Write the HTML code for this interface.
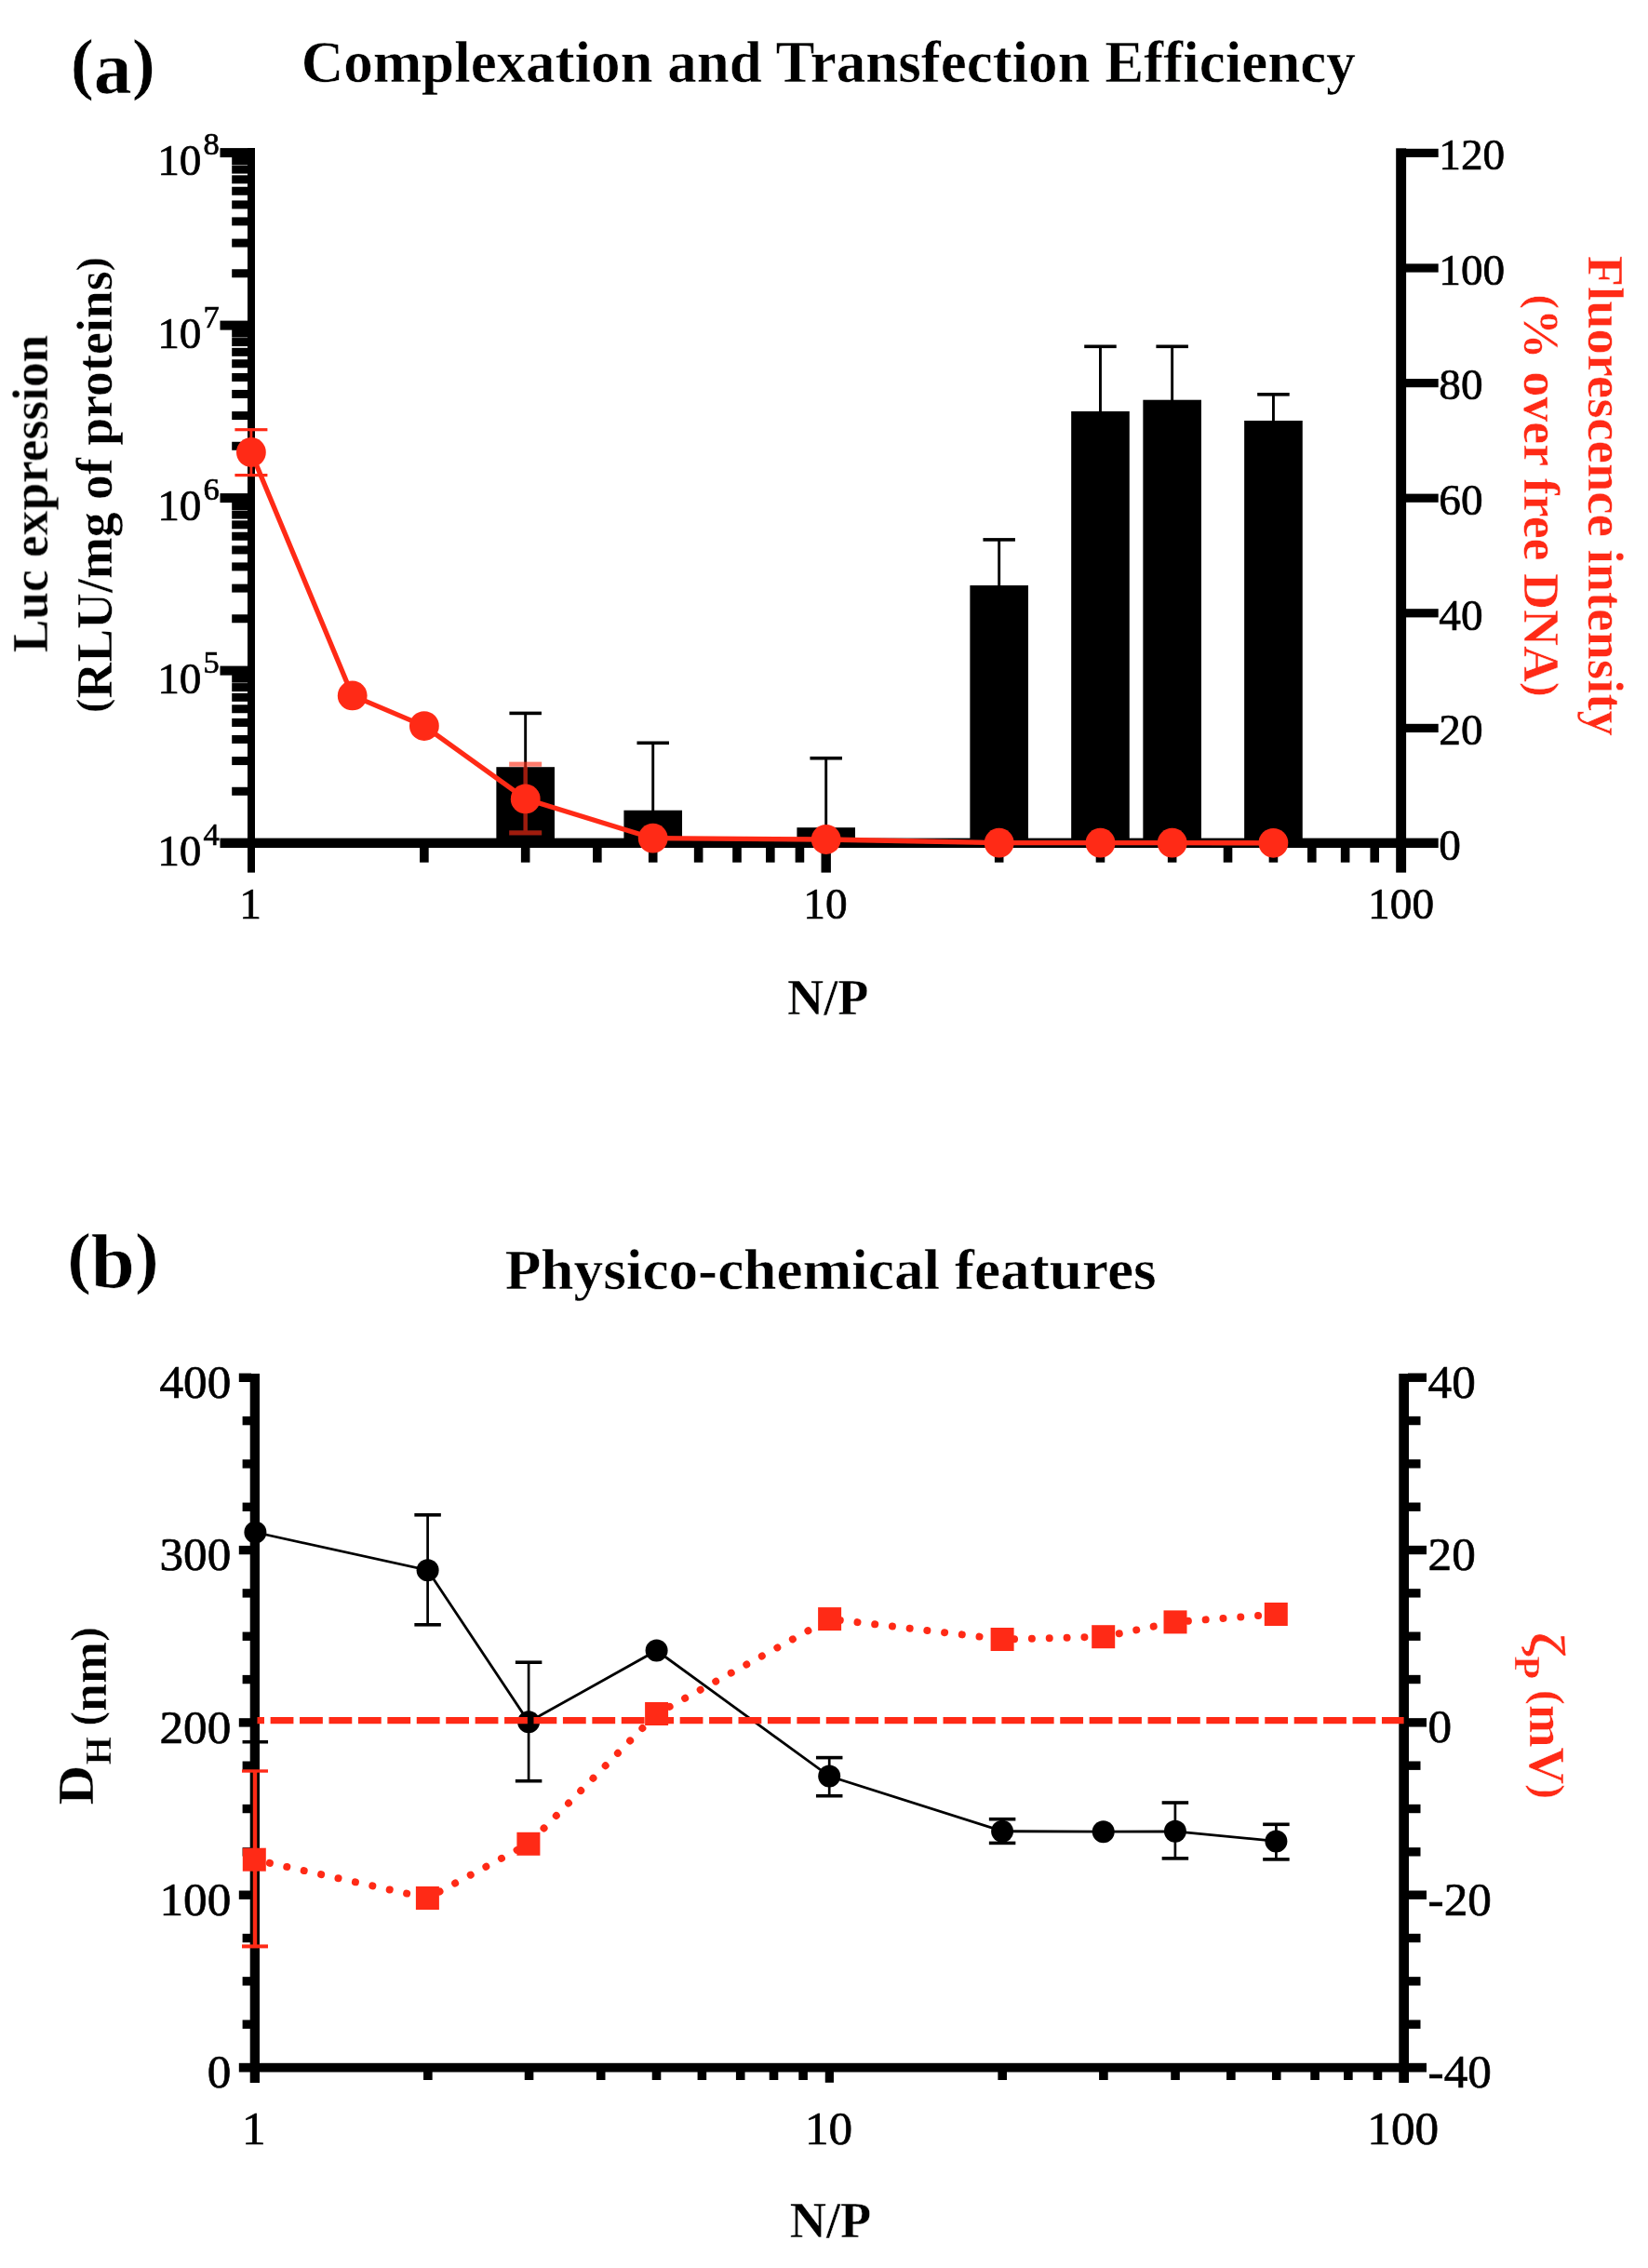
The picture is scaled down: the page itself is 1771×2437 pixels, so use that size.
<!DOCTYPE html>
<html lang="en">
<head>
<meta charset="utf-8">
<title>Complexation and Transfection Efficiency / Physico-chemical features</title>
<style>
html,body{margin:0;padding:0;background:#fff;}
body{width:1771px;height:2437px;overflow:hidden;}
svg{display:block;font-family:"Liberation Serif","DejaVu Serif",serif;}
text{white-space:pre;}
</style>
</head>
<body>
<svg width="1771" height="2437" viewBox="0 0 1771 2437">
<defs><filter id="soft" x="0" y="0" width="1771" height="2437" filterUnits="userSpaceOnUse"><feGaussianBlur stdDeviation="0.6"/></filter></defs>
<rect x="0" y="0" width="1771" height="2437" fill="#ffffff"/>
<g filter="url(#soft)">
<g id="panel-a">
<rect x="533.37" y="824.20" width="62.60" height="81.80" fill="#020302"/>
<rect x="563.22" y="766.40" width="2.90" height="58.80" fill="#020302"/>
<rect x="547.42" y="764.60" width="34.50" height="3.60" fill="#020302"/>
<rect x="670.42" y="870.70" width="62.60" height="35.30" fill="#020302"/>
<rect x="700.27" y="798.30" width="2.90" height="73.40" fill="#020302"/>
<rect x="684.47" y="796.50" width="34.50" height="3.60" fill="#020302"/>
<rect x="856.40" y="889.20" width="62.60" height="16.80" fill="#020302"/>
<rect x="886.25" y="814.70" width="2.90" height="75.50" fill="#020302"/>
<rect x="870.45" y="812.90" width="34.50" height="3.60" fill="#020302"/>
<rect x="1042.38" y="629.00" width="62.60" height="277.00" fill="#020302"/>
<rect x="1072.23" y="579.90" width="2.90" height="50.10" fill="#020302"/>
<rect x="1056.43" y="578.10" width="34.50" height="3.60" fill="#020302"/>
<rect x="1151.17" y="442.00" width="62.60" height="464.00" fill="#020302"/>
<rect x="1181.02" y="372.30" width="2.90" height="70.70" fill="#020302"/>
<rect x="1165.22" y="370.50" width="34.50" height="3.60" fill="#020302"/>
<rect x="1228.35" y="429.70" width="62.60" height="476.30" fill="#020302"/>
<rect x="1258.20" y="372.30" width="2.90" height="58.40" fill="#020302"/>
<rect x="1242.40" y="370.50" width="34.50" height="3.60" fill="#020302"/>
<rect x="1337.14" y="452.00" width="62.60" height="454.00" fill="#020302"/>
<rect x="1366.99" y="423.80" width="2.90" height="29.20" fill="#020302"/>
<rect x="1351.19" y="422.00" width="34.50" height="3.60" fill="#020302"/>
<rect x="266.00" y="159.00" width="8.00" height="778.60" fill="#020302"/>
<rect x="1500.20" y="159.30" width="10.90" height="778.30" fill="#020302"/>
<rect x="236.50" y="900.60" width="1309.20" height="10.40" fill="#020302"/>
<rect x="236.50" y="159.10" width="30.50" height="10.00" fill="#020302"/>
<rect x="249.20" y="289.26" width="17.80" height="9.00" fill="#020302"/>
<rect x="249.20" y="256.59" width="17.80" height="9.00" fill="#020302"/>
<rect x="249.20" y="233.42" width="17.80" height="9.00" fill="#020302"/>
<rect x="249.20" y="215.44" width="17.80" height="9.00" fill="#020302"/>
<rect x="249.20" y="200.75" width="17.80" height="9.00" fill="#020302"/>
<rect x="249.20" y="188.33" width="17.80" height="9.00" fill="#020302"/>
<rect x="249.20" y="177.58" width="17.80" height="9.00" fill="#020302"/>
<rect x="249.20" y="168.09" width="17.80" height="9.00" fill="#020302"/>
<rect x="236.50" y="344.60" width="30.50" height="10.00" fill="#020302"/>
<rect x="249.20" y="474.76" width="17.80" height="9.00" fill="#020302"/>
<rect x="249.20" y="442.09" width="17.80" height="9.00" fill="#020302"/>
<rect x="249.20" y="418.92" width="17.80" height="9.00" fill="#020302"/>
<rect x="249.20" y="400.94" width="17.80" height="9.00" fill="#020302"/>
<rect x="249.20" y="386.25" width="17.80" height="9.00" fill="#020302"/>
<rect x="249.20" y="373.83" width="17.80" height="9.00" fill="#020302"/>
<rect x="249.20" y="363.08" width="17.80" height="9.00" fill="#020302"/>
<rect x="249.20" y="353.59" width="17.80" height="9.00" fill="#020302"/>
<rect x="236.50" y="530.10" width="30.50" height="10.00" fill="#020302"/>
<rect x="249.20" y="660.26" width="17.80" height="9.00" fill="#020302"/>
<rect x="249.20" y="627.59" width="17.80" height="9.00" fill="#020302"/>
<rect x="249.20" y="604.42" width="17.80" height="9.00" fill="#020302"/>
<rect x="249.20" y="586.44" width="17.80" height="9.00" fill="#020302"/>
<rect x="249.20" y="571.75" width="17.80" height="9.00" fill="#020302"/>
<rect x="249.20" y="559.33" width="17.80" height="9.00" fill="#020302"/>
<rect x="249.20" y="548.58" width="17.80" height="9.00" fill="#020302"/>
<rect x="249.20" y="539.09" width="17.80" height="9.00" fill="#020302"/>
<rect x="236.50" y="715.60" width="30.50" height="10.00" fill="#020302"/>
<rect x="249.20" y="845.76" width="17.80" height="9.00" fill="#020302"/>
<rect x="249.20" y="813.09" width="17.80" height="9.00" fill="#020302"/>
<rect x="249.20" y="789.92" width="17.80" height="9.00" fill="#020302"/>
<rect x="249.20" y="771.94" width="17.80" height="9.00" fill="#020302"/>
<rect x="249.20" y="757.25" width="17.80" height="9.00" fill="#020302"/>
<rect x="249.20" y="744.83" width="17.80" height="9.00" fill="#020302"/>
<rect x="249.20" y="734.08" width="17.80" height="9.00" fill="#020302"/>
<rect x="249.20" y="724.59" width="17.80" height="9.00" fill="#020302"/>
<rect x="1510.00" y="777.80" width="35.70" height="9.20" fill="#020302"/>
<rect x="1510.00" y="654.20" width="35.70" height="9.20" fill="#020302"/>
<rect x="1510.00" y="530.60" width="35.70" height="9.20" fill="#020302"/>
<rect x="1510.00" y="407.00" width="35.70" height="9.20" fill="#020302"/>
<rect x="1510.00" y="283.40" width="35.70" height="9.20" fill="#020302"/>
<rect x="1510.00" y="159.80" width="35.70" height="9.20" fill="#020302"/>
<rect x="451.08" y="906.00" width="9.60" height="20.70" fill="#020302"/>
<rect x="559.87" y="906.00" width="9.60" height="20.70" fill="#020302"/>
<rect x="637.05" y="906.00" width="9.60" height="20.70" fill="#020302"/>
<rect x="696.92" y="906.00" width="9.60" height="20.70" fill="#020302"/>
<rect x="745.84" y="906.00" width="9.60" height="20.70" fill="#020302"/>
<rect x="787.20" y="906.00" width="9.60" height="20.70" fill="#020302"/>
<rect x="823.03" y="906.00" width="9.60" height="20.70" fill="#020302"/>
<rect x="854.63" y="906.00" width="9.60" height="20.70" fill="#020302"/>
<rect x="1068.88" y="906.00" width="9.60" height="20.70" fill="#020302"/>
<rect x="1177.67" y="906.00" width="9.60" height="20.70" fill="#020302"/>
<rect x="1254.85" y="906.00" width="9.60" height="20.70" fill="#020302"/>
<rect x="1314.72" y="906.00" width="9.60" height="20.70" fill="#020302"/>
<rect x="1363.64" y="906.00" width="9.60" height="20.70" fill="#020302"/>
<rect x="1405.00" y="906.00" width="9.60" height="20.70" fill="#020302"/>
<rect x="1440.83" y="906.00" width="9.60" height="20.70" fill="#020302"/>
<rect x="1472.43" y="906.00" width="9.60" height="20.70" fill="#020302"/>
<rect x="882.50" y="906.00" width="10.40" height="31.60" fill="#020302"/>
<g opacity="1">
<rect x="268.50" y="461.70" width="2.80" height="48.90" fill="#ff2c18"/>
<rect x="252.40" y="460.10" width="35.00" height="3.20" fill="#ff2c18"/>
<rect x="252.40" y="509.00" width="35.00" height="3.20" fill="#ff2c18"/>
</g>
<g opacity="0.62">
<rect x="562.43" y="821.20" width="4.48" height="73.70" fill="#ff2c18"/>
<rect x="547.17" y="818.64" width="35.00" height="5.12" fill="#ff2c18"/>
<rect x="547.17" y="892.34" width="35.00" height="5.12" fill="#ff2c18"/>
</g>
<polyline fill="none" stroke="#ff2c18" stroke-width="5.3" stroke-linejoin="round" points="269.9,486.0 378.7,747.4 455.9,780.1 564.7,858.4 701.7,900.7 887.7,902.0 1073.7,905.7 1182.5,905.7 1259.7,905.7 1368.4,905.8"/>
<circle cx="269.9" cy="486.0" r="15.9" fill="#ff2c18"/>
<circle cx="378.7" cy="747.4" r="15.9" fill="#ff2c18"/>
<circle cx="455.9" cy="780.1" r="15.9" fill="#ff2c18"/>
<circle cx="564.7" cy="858.4" r="15.9" fill="#ff2c18"/>
<circle cx="701.7" cy="900.7" r="15.9" fill="#ff2c18"/>
<circle cx="887.7" cy="902.0" r="15.9" fill="#ff2c18"/>
<circle cx="1073.7" cy="905.7" r="15.9" fill="#ff2c18"/>
<circle cx="1182.5" cy="905.7" r="15.9" fill="#ff2c18"/>
<circle cx="1259.7" cy="905.7" r="15.9" fill="#ff2c18"/>
<circle cx="1368.4" cy="905.8" r="15.9" fill="#ff2c18"/>
<text x="216.50" y="188.10" font-size="47.3" text-anchor="end" stroke="#020302" stroke-width="0.7" fill="#020302">10</text>
<text x="218.50" y="166.10" font-size="34.5" stroke="#020302" stroke-width="0.7" fill="#020302">8</text>
<text x="216.50" y="373.60" font-size="47.3" text-anchor="end" stroke="#020302" stroke-width="0.7" fill="#020302">10</text>
<text x="218.50" y="351.60" font-size="34.5" stroke="#020302" stroke-width="0.7" fill="#020302">7</text>
<text x="216.50" y="559.10" font-size="47.3" text-anchor="end" stroke="#020302" stroke-width="0.7" fill="#020302">10</text>
<text x="218.50" y="537.10" font-size="34.5" stroke="#020302" stroke-width="0.7" fill="#020302">6</text>
<text x="216.50" y="744.60" font-size="47.3" text-anchor="end" stroke="#020302" stroke-width="0.7" fill="#020302">10</text>
<text x="218.50" y="722.60" font-size="34.5" stroke="#020302" stroke-width="0.7" fill="#020302">5</text>
<text x="216.50" y="930.10" font-size="47.3" text-anchor="end" stroke="#020302" stroke-width="0.7" fill="#020302">10</text>
<text x="218.50" y="908.10" font-size="34.5" stroke="#020302" stroke-width="0.7" fill="#020302">4</text>
<text x="1546.30" y="923.70" font-size="47.3" stroke="#020302" stroke-width="0.7" fill="#020302">0</text>
<text x="1546.30" y="800.10" font-size="47.3" stroke="#020302" stroke-width="0.7" fill="#020302">20</text>
<text x="1546.30" y="676.50" font-size="47.3" stroke="#020302" stroke-width="0.7" fill="#020302">40</text>
<text x="1546.30" y="552.90" font-size="47.3" stroke="#020302" stroke-width="0.7" fill="#020302">60</text>
<text x="1546.30" y="429.30" font-size="47.3" stroke="#020302" stroke-width="0.7" fill="#020302">80</text>
<text x="1546.30" y="305.70" font-size="47.3" stroke="#020302" stroke-width="0.7" fill="#020302">100</text>
<text x="1546.30" y="182.10" font-size="47.3" stroke="#020302" stroke-width="0.7" fill="#020302">120</text>
<text x="269.00" y="986.70" font-size="47.3" text-anchor="middle" stroke="#020302" stroke-width="0.7" fill="#020302">1</text>
<text x="886.90" y="986.70" font-size="47.3" text-anchor="middle" stroke="#020302" stroke-width="0.7" fill="#020302">10</text>
<text x="1505.60" y="986.70" font-size="47.3" text-anchor="middle" stroke="#020302" stroke-width="0.7" fill="#020302">100</text>
<text x="75.70" y="99.60" font-weight="bold" stroke="#fff" fill="#020302" textLength="91.0" lengthAdjust="spacingAndGlyphs"><tspan font-size="74.5" stroke-width="0.60" dy="-6.30">(</tspan><tspan font-size="81" stroke-width="0.65" dy="6.30">a</tspan><tspan font-size="74.5" stroke-width="0.60" dy="-6.30">)</tspan></text>
<text x="323.70" y="87.50" font-size="64" font-weight="bold" stroke="#fff" stroke-width="0.51" fill="#020302" textLength="1133.0" lengthAdjust="spacingAndGlyphs">Complexation and Transfection Efficiency</text>
<text x="889.70" y="1090.10" font-size="54" text-anchor="middle" font-weight="bold" stroke="#fff" stroke-width="0.43" fill="#020302" textLength="87.5" lengthAdjust="spacingAndGlyphs">N/P</text>
<text transform="translate(50.90 530.50) rotate(-90)" font-size="55" text-anchor="middle" font-weight="bold" stroke="#fff" stroke-width="0.44" fill="#020302" textLength="341.5" lengthAdjust="spacingAndGlyphs">Luc expression</text>
<text transform="translate(119.70 521.00) rotate(-90)" text-anchor="middle" font-weight="bold" stroke="#fff" fill="#020302" textLength="490.0" lengthAdjust="spacingAndGlyphs"><tspan font-size="47.3" stroke-width="0.38" dy="-5.28">(</tspan><tspan font-size="55" stroke-width="0.44" dy="5.28">RLU/mg of proteins</tspan><tspan font-size="47.3" stroke-width="0.38" dy="-5.28">)</tspan></text>
<text transform="translate(1706.80 532.70) rotate(90)" font-size="55" text-anchor="middle" font-weight="bold" stroke="#fff" stroke-width="0.44" fill="#ff2c18" textLength="516.0" lengthAdjust="spacingAndGlyphs">Fluorescence intensity</text>
<text transform="translate(1637.70 532.40) rotate(90)" text-anchor="middle" font-weight="bold" stroke="#fff" fill="#ff2c18" textLength="432.0" lengthAdjust="spacingAndGlyphs"><tspan font-size="47.3" stroke-width="0.38" dy="-5.28">(</tspan><tspan font-size="55" stroke-width="0.44" dy="5.28">% over free DNA</tspan><tspan font-size="47.3" stroke-width="0.38" dy="-5.28">)</tspan></text>
</g>
<g id="panel-b">
<rect x="268.70" y="1476.00" width="10.30" height="762.00" fill="#020302"/>
<rect x="1503.30" y="1476.00" width="10.70" height="762.00" fill="#020302"/>
<rect x="256.80" y="2216.80" width="1276.20" height="9.70" fill="#020302"/>
<rect x="260.60" y="2170.48" width="9.40" height="9.40" fill="#020302"/>
<rect x="260.60" y="2124.15" width="9.40" height="9.40" fill="#020302"/>
<rect x="260.60" y="2077.83" width="9.40" height="9.40" fill="#020302"/>
<rect x="256.80" y="2031.50" width="13.20" height="9.40" fill="#020302"/>
<rect x="260.60" y="1985.17" width="9.40" height="9.40" fill="#020302"/>
<rect x="260.60" y="1938.85" width="9.40" height="9.40" fill="#020302"/>
<rect x="260.60" y="1892.52" width="9.40" height="9.40" fill="#020302"/>
<rect x="256.80" y="1846.20" width="13.20" height="9.40" fill="#020302"/>
<rect x="260.60" y="1799.88" width="9.40" height="9.40" fill="#020302"/>
<rect x="260.60" y="1753.55" width="9.40" height="9.40" fill="#020302"/>
<rect x="260.60" y="1707.22" width="9.40" height="9.40" fill="#020302"/>
<rect x="256.80" y="1660.90" width="13.20" height="9.40" fill="#020302"/>
<rect x="260.60" y="1614.58" width="9.40" height="9.40" fill="#020302"/>
<rect x="260.60" y="1568.25" width="9.40" height="9.40" fill="#020302"/>
<rect x="260.60" y="1521.92" width="9.40" height="9.40" fill="#020302"/>
<rect x="256.80" y="1475.60" width="13.20" height="9.40" fill="#020302"/>
<rect x="1513.00" y="2170.47" width="13.50" height="9.40" fill="#020302"/>
<rect x="1513.00" y="2124.14" width="13.50" height="9.40" fill="#020302"/>
<rect x="1513.00" y="2077.81" width="13.50" height="9.40" fill="#020302"/>
<rect x="1513.00" y="2031.48" width="20.00" height="9.40" fill="#020302"/>
<rect x="1513.00" y="1985.15" width="13.50" height="9.40" fill="#020302"/>
<rect x="1513.00" y="1938.82" width="13.50" height="9.40" fill="#020302"/>
<rect x="1513.00" y="1892.49" width="13.50" height="9.40" fill="#020302"/>
<rect x="1513.00" y="1846.16" width="20.00" height="9.40" fill="#020302"/>
<rect x="1513.00" y="1799.83" width="13.50" height="9.40" fill="#020302"/>
<rect x="1513.00" y="1753.50" width="13.50" height="9.40" fill="#020302"/>
<rect x="1513.00" y="1707.17" width="13.50" height="9.40" fill="#020302"/>
<rect x="1513.00" y="1660.84" width="20.00" height="9.40" fill="#020302"/>
<rect x="1513.00" y="1614.51" width="13.50" height="9.40" fill="#020302"/>
<rect x="1513.00" y="1568.18" width="13.50" height="9.40" fill="#020302"/>
<rect x="1513.00" y="1521.85" width="13.50" height="9.40" fill="#020302"/>
<rect x="1513.00" y="1475.52" width="20.00" height="9.40" fill="#020302"/>
<rect x="455.04" y="2221.00" width="9.60" height="14.00" fill="#020302"/>
<rect x="563.75" y="2221.00" width="9.60" height="14.00" fill="#020302"/>
<rect x="640.88" y="2221.00" width="9.60" height="14.00" fill="#020302"/>
<rect x="700.71" y="2221.00" width="9.60" height="14.00" fill="#020302"/>
<rect x="749.59" y="2221.00" width="9.60" height="14.00" fill="#020302"/>
<rect x="790.92" y="2221.00" width="9.60" height="14.00" fill="#020302"/>
<rect x="826.72" y="2221.00" width="9.60" height="14.00" fill="#020302"/>
<rect x="858.30" y="2221.00" width="9.60" height="14.00" fill="#020302"/>
<rect x="1072.39" y="2221.00" width="9.60" height="14.00" fill="#020302"/>
<rect x="1181.10" y="2221.00" width="9.60" height="14.00" fill="#020302"/>
<rect x="1258.23" y="2221.00" width="9.60" height="14.00" fill="#020302"/>
<rect x="1318.06" y="2221.00" width="9.60" height="14.00" fill="#020302"/>
<rect x="1366.94" y="2221.00" width="9.60" height="14.00" fill="#020302"/>
<rect x="1408.27" y="2221.00" width="9.60" height="14.00" fill="#020302"/>
<rect x="1444.07" y="2221.00" width="9.60" height="14.00" fill="#020302"/>
<rect x="1475.65" y="2221.00" width="9.60" height="14.00" fill="#020302"/>
<rect x="886.75" y="2221.00" width="9.20" height="16.80" fill="#020302"/>
<rect x="260.55" y="1869.90" width="27.50" height="3.60" fill="#020302"/>
<rect x="458.25" y="1627.80" width="2.70" height="118.00" fill="#020302"/>
<rect x="445.35" y="1626.00" width="28.50" height="3.60" fill="#020302"/>
<rect x="445.35" y="1744.00" width="28.50" height="3.60" fill="#020302"/>
<rect x="566.75" y="1786.20" width="2.70" height="127.50" fill="#020302"/>
<rect x="553.85" y="1784.40" width="28.50" height="3.60" fill="#020302"/>
<rect x="553.85" y="1911.90" width="28.50" height="3.60" fill="#020302"/>
<rect x="889.85" y="1888.60" width="2.70" height="41.10" fill="#020302"/>
<rect x="876.95" y="1886.80" width="28.50" height="3.60" fill="#020302"/>
<rect x="876.95" y="1927.90" width="28.50" height="3.60" fill="#020302"/>
<rect x="1075.75" y="1954.70" width="2.70" height="25.70" fill="#020302"/>
<rect x="1062.85" y="1952.90" width="28.50" height="3.60" fill="#020302"/>
<rect x="1062.85" y="1978.60" width="28.50" height="3.60" fill="#020302"/>
<rect x="1261.55" y="1937.00" width="2.70" height="59.90" fill="#020302"/>
<rect x="1248.65" y="1935.20" width="28.50" height="3.60" fill="#020302"/>
<rect x="1248.65" y="1995.10" width="28.50" height="3.60" fill="#020302"/>
<rect x="1370.05" y="1960.30" width="2.70" height="37.60" fill="#020302"/>
<rect x="1357.15" y="1958.50" width="28.50" height="3.60" fill="#020302"/>
<rect x="1357.15" y="1996.10" width="28.50" height="3.60" fill="#020302"/>
<polyline fill="none" stroke="#020302" stroke-width="2.8" points="274.4,1646.5 459.6,1687.2 568.1,1850.3 705.6,1773.5 891.2,1908.6 1077.1,1967.7 1185.7,1968.2 1262.9,1967.8 1371.4,1978.4"/>
<circle cx="274.4" cy="1646.5" r="12" fill="#020302"/>
<circle cx="459.6" cy="1687.2" r="12" fill="#020302"/>
<circle cx="568.1" cy="1850.3" r="12" fill="#020302"/>
<circle cx="705.6" cy="1773.5" r="12" fill="#020302"/>
<circle cx="891.2" cy="1908.6" r="12" fill="#020302"/>
<circle cx="1077.1" cy="1967.7" r="12" fill="#020302"/>
<circle cx="1185.7" cy="1968.2" r="12" fill="#020302"/>
<circle cx="1262.9" cy="1967.8" r="12" fill="#020302"/>
<circle cx="1371.4" cy="1978.4" r="12" fill="#020302"/>
<rect x="271.80" y="1903.00" width="4.40" height="188.40" fill="#ff2c18"/>
<rect x="260.00" y="1901.30" width="28.00" height="3.40" fill="#ff2c18"/>
<rect x="260.00" y="2089.40" width="28.00" height="4.00" fill="#ff2c18"/>
<polyline fill="none" stroke="#ff2c18" stroke-width="8" stroke-linecap="round" stroke-dasharray="0.01 18.84" stroke-dashoffset="1.84" points="273.3,1998.2 459.4,2039.5 567.9,1981.3 705.6,1841.5 891.6,1739.6 1077.1,1761.5 1185.7,1758.7 1263.0,1742.9 1371.3,1734.5"/>
<rect x="260.80" y="1985.70" width="25.00" height="25.00" fill="#ff2c18"/>
<rect x="446.90" y="2027.00" width="25.00" height="25.00" fill="#ff2c18"/>
<rect x="555.40" y="1968.80" width="25.00" height="25.00" fill="#ff2c18"/>
<rect x="693.10" y="1829.00" width="25.00" height="25.00" fill="#ff2c18"/>
<rect x="879.10" y="1727.10" width="25.00" height="25.00" fill="#ff2c18"/>
<rect x="1064.60" y="1749.00" width="25.00" height="25.00" fill="#ff2c18"/>
<rect x="1173.20" y="1746.20" width="25.00" height="25.00" fill="#ff2c18"/>
<rect x="1250.50" y="1730.40" width="25.00" height="25.00" fill="#ff2c18"/>
<rect x="1358.80" y="1722.00" width="25.00" height="25.00" fill="#ff2c18"/>
<line x1="276.5" y1="1848.6" x2="1508.6" y2="1848.6" stroke="#ff2c18" stroke-width="7.3" stroke-dasharray="24.8 6.63" stroke-dashoffset="17.3"/>
<text x="248.30" y="2243.30" font-size="51.2" text-anchor="end" stroke="#020302" stroke-width="0.7" fill="#020302">0</text>
<text x="248.30" y="2058.00" font-size="51.2" text-anchor="end" stroke="#020302" stroke-width="0.7" fill="#020302">100</text>
<text x="248.30" y="1872.70" font-size="51.2" text-anchor="end" stroke="#020302" stroke-width="0.7" fill="#020302">200</text>
<text x="248.30" y="1687.40" font-size="51.2" text-anchor="end" stroke="#020302" stroke-width="0.7" fill="#020302">300</text>
<text x="248.30" y="1502.10" font-size="51.2" text-anchor="end" stroke="#020302" stroke-width="0.7" fill="#020302">400</text>
<text x="1534.60" y="2242.80" font-size="51.2" stroke="#020302" stroke-width="0.7" fill="#020302">-40</text>
<text x="1534.60" y="2057.50" font-size="51.2" stroke="#020302" stroke-width="0.7" fill="#020302">-20</text>
<text x="1534.60" y="1872.20" font-size="51.2" stroke="#020302" stroke-width="0.7" fill="#020302">0</text>
<text x="1534.60" y="1686.90" font-size="51.2" stroke="#020302" stroke-width="0.7" fill="#020302">20</text>
<text x="1534.60" y="1501.60" font-size="51.2" stroke="#020302" stroke-width="0.7" fill="#020302">40</text>
<text x="272.90" y="2304.00" font-size="51.2" text-anchor="middle" stroke="#020302" stroke-width="0.7" fill="#020302">1</text>
<text x="890.60" y="2304.00" font-size="51.2" text-anchor="middle" stroke="#020302" stroke-width="0.7" fill="#020302">10</text>
<text x="1507.70" y="2304.00" font-size="51.2" text-anchor="middle" stroke="#020302" stroke-width="0.7" fill="#020302">100</text>
<text x="72.20" y="1382.70" font-weight="bold" stroke="#fff" fill="#020302" textLength="98.5" lengthAdjust="spacingAndGlyphs"><tspan font-size="74.5" stroke-width="0.60" dy="-6.30">(</tspan><tspan font-size="82" stroke-width="0.66" dy="6.30">b</tspan><tspan font-size="74.5" stroke-width="0.60" dy="-6.30">)</tspan></text>
<text x="542.70" y="1385.20" font-size="62" font-weight="bold" stroke="#fff" stroke-width="0.50" fill="#020302" textLength="700.0" lengthAdjust="spacingAndGlyphs">Physico-chemical features</text>
<text x="892.50" y="2403.70" font-size="54" text-anchor="middle" font-weight="bold" stroke="#fff" stroke-width="0.43" fill="#020302" textLength="87.5" lengthAdjust="spacingAndGlyphs">N/P</text>
<text transform="translate(100.10 1939.60) rotate(-90)" font-size="54" font-weight="bold" stroke="#fff" stroke-width="0.43" fill="#020302" textLength="42.5" lengthAdjust="spacingAndGlyphs">D</text>
<text transform="translate(118.90 1896.30) rotate(-90)" font-size="40" font-weight="bold" stroke="#fff" stroke-width="0.32" fill="#020302" textLength="30.0" lengthAdjust="spacingAndGlyphs">H</text>
<text transform="translate(113.60 1854.40) rotate(-90)" font-weight="bold" stroke="#fff" fill="#020302" textLength="106.0" lengthAdjust="spacingAndGlyphs"><tspan font-size="46.4" stroke-width="0.37" dy="-5.18">(</tspan><tspan font-size="54" stroke-width="0.43" dy="5.18">nm</tspan><tspan font-size="46.4" stroke-width="0.37" dy="-5.18">)</tspan></text>
<text transform="translate(1644.60 1754.00) rotate(90)" font-size="52" stroke="#ff2c18" stroke-width="0.7" fill="#ff2c18" textLength="26.5" lengthAdjust="spacingAndGlyphs">ζ</text>
<text transform="translate(1627.60 1779.50) rotate(90)" font-size="41" font-weight="bold" stroke="#fff" stroke-width="0.33" fill="#ff2c18" textLength="24.5" lengthAdjust="spacingAndGlyphs">P</text>
<text transform="translate(1644.20 1816.00) rotate(90)" font-weight="bold" stroke="#fff" fill="#ff2c18" textLength="117.0" lengthAdjust="spacingAndGlyphs"><tspan font-size="46.4" stroke-width="0.37" dy="-5.18">(</tspan><tspan font-size="54" stroke-width="0.43" dy="5.18">mV</tspan><tspan font-size="46.4" stroke-width="0.37" dy="-5.18">)</tspan></text>
</g>
</g>
</svg>
</body>
</html>
